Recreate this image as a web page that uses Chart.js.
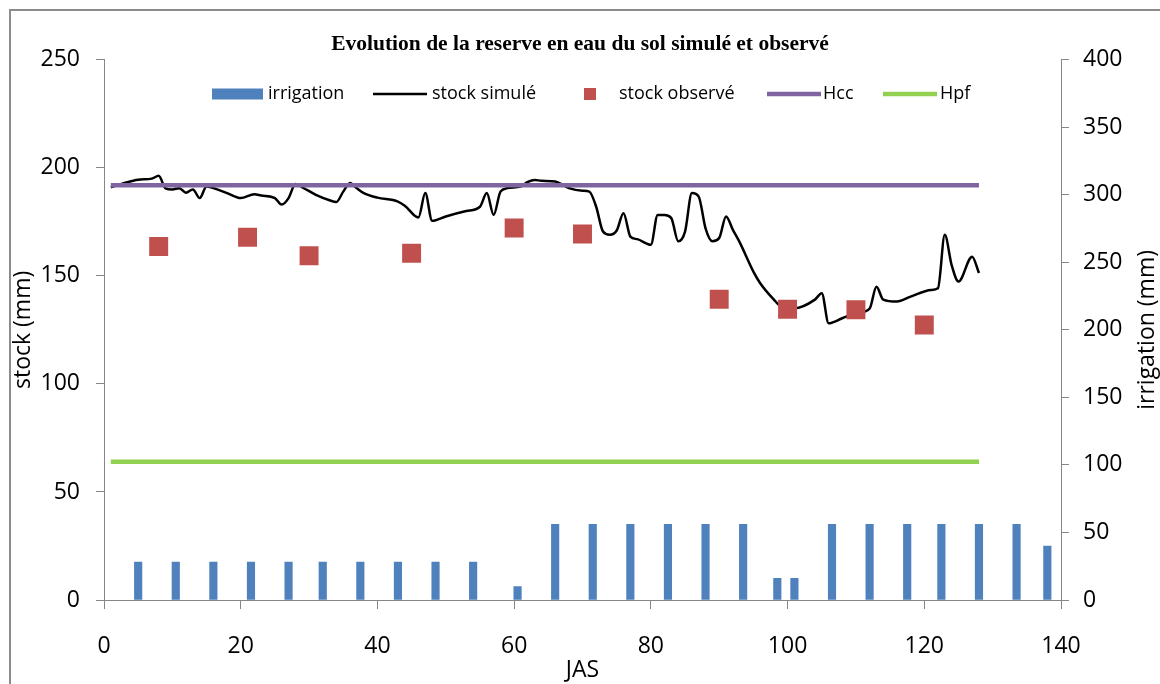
<!DOCTYPE html>
<html>
<head>
<meta charset="utf-8">
<script src="https://cdn.jsdelivr.net/npm/chart.js@4.4.0/dist/chart.umd.min.js"></script>
<style>
  html, body { margin: 0; padding: 0; background: #fff; }
  #wrap { width: 1160px; height: 684px; }
</style>
</head>
<body>
<div id="wrap"><canvas id="chart" width="1160" height="684"></canvas></div>
<script>
// irrigation doses (mm), right axis
const irrigDays = [5, 10.5, 16, 21.5, 27, 32, 37.5, 43, 48.5, 54, 60.5, 66, 71.5, 77, 82.5, 88, 93.5, 98.5, 101, 106.5, 112, 117.5, 122.5, 128, 133.5, 138];
const irrigMm   = [28, 28, 28, 28, 28, 28, 28, 28, 28, 28, 10, 56, 56, 56, 56, 56, 56, 16, 16, 56, 56, 56, 56, 56, 56, 40];

// simulated stock (mm)
const simDays  = [1, 3, 5, 7, 8, 9, 10, 11, 12, 13, 14, 15, 16, 18, 20, 22, 23, 25, 26, 27, 28, 29, 31, 33, 34, 35, 36, 37, 38, 40, 43, 44, 46, 47, 48, 50, 53, 55, 56, 57, 58, 59, 61, 62, 63, 64, 66, 68, 70, 71, 72, 73, 74, 75, 76, 77, 78, 80, 81, 82, 83, 84, 85, 86, 87, 88, 89, 90, 91, 92, 93, 95, 96, 98, 99, 101, 104, 105, 106, 108, 110, 112, 113, 114, 116, 118, 121, 122, 123, 124, 125, 127, 128];
const simStock = [191, 193, 194.5, 195, 196.3, 190.5, 190, 190.6, 188.5, 190, 186, 191.4, 190.6, 188.3, 186, 187.8, 187.2, 186, 183, 186, 192.5, 191, 187.5, 185, 184.2, 189, 193, 190.5, 188.3, 186.2, 184.4, 182.5, 177, 188.3, 175.5, 177.5, 180, 182, 188.3, 178.2, 189, 190.6, 191.5, 193.5, 194.4, 194, 193.7, 190.6, 189.4, 189, 182, 170.5, 169, 171, 179, 168.2, 167, 164.4, 178.2, 178.2, 176.7, 166, 170.5, 188.3, 186.7, 172, 166, 167.5, 177.5, 171.3, 165.5, 152, 146.6, 139, 136, 135, 139, 142, 128.1, 130.4, 132.7, 134.8, 145, 139, 138.1, 140.4, 143.5, 144.3, 169, 155, 147.4, 158.9, 151.3];

// observed stock (mm)
const obsDays  = [8, 21, 30, 45, 60, 70, 90, 100, 110, 120];
const obsStock = [163.6, 167.9, 159.3, 160.5, 172.2, 169.4, 139.2, 134.6, 134.3, 127.3];

// field capacity / wilting point
const limitDays = [1, 128];
const hccStock  = [192, 192];
const hpfStock  = [64, 64];

const axisGray = "#868686";
const tickFont = { family: "'Open Sans', sans-serif", size: 23 };

function toPoints(xs, ys) {
  return xs.map((x, i) => ({ x: x, y: ys[i] }));
}

// grey frame around the picture
const framePlugin = {
  id: "frame",
  beforeDraw(chart) {
    const ctx = chart.ctx;
    ctx.save();
    ctx.strokeStyle = "#8c8c8c";
    ctx.lineWidth = 2;
    ctx.beginPath();
    ctx.moveTo(10, 700);
    ctx.lineTo(10, 10);
    ctx.lineTo(1170, 10);
    ctx.stroke();
    ctx.restore();
  },
};

// right axis title, rotated bottom-to-top like the left one
const rightTitlePlugin = {
  id: "rightTitle",
  afterDraw(chart, args, opts) {
    const ctx = chart.ctx;
    const area = chart.chartArea;
    ctx.save();
    ctx.translate(opts.x, (area.top + area.bottom) / 2);
    ctx.rotate(-Math.PI / 2);
    ctx.font = opts.font;
    ctx.fillStyle = "#000";
    ctx.textAlign = "center";
    ctx.textBaseline = "middle";
    ctx.fillText(opts.text, 0, 0);
    ctx.restore();
  },
};

// Excel-like legend sitting inside the plot area
const legendPlugin = {
  id: "insideLegend",
  afterDraw(chart, args, opts) {
    const ctx = chart.ctx;
    ctx.save();
    ctx.font = opts.font;
    ctx.textBaseline = "middle";
    chart.data.datasets.forEach((ds, i) => {
      const sx = opts.symbolX[i];
      const y = opts.y;
      if (ds.type === "bar") {
        ctx.fillStyle = ds.backgroundColor;
        ctx.fillRect(sx, y - 5.5, 51, 11);
      } else if (ds.showLine === false) {
        ctx.fillStyle = ds.pointBackgroundColor;
        ctx.fillRect(sx + 10, y - 6, 12, 12);
      } else {
        ctx.strokeStyle = ds.borderColor;
        ctx.lineWidth = ds.borderWidth;
        ctx.beginPath();
        ctx.moveTo(sx, y);
        ctx.lineTo(sx + 54, y);
        ctx.stroke();
      }
      ctx.fillStyle = "#000";
      ctx.fillText(ds.label, opts.textX[i], y);
    });
    ctx.restore();
  },
};

new Chart(document.getElementById("chart"), {
  type: "line",
  data: {
    datasets: [
      {
        type: "bar",
        label: "irrigation",
        data: toPoints(irrigDays, irrigMm),
        yAxisID: "y2",
        backgroundColor: "#4f81bd",
        barThickness: 7.5,
        order: 5,
      },
      {
        type: "line",
        label: "stock simulé",
        data: toPoints(simDays, simStock),
        yAxisID: "y",
        borderColor: "#000",
        borderWidth: 2.5,
        pointRadius: 0,
        cubicInterpolationMode: "monotone",
        order: 4,
      },
      {
        type: "line",
        label: "stock observé",
        data: toPoints(obsDays, obsStock),
        yAxisID: "y",
        showLine: false,
        pointStyle: "rect",
        pointRadius: 13.4,
        pointBackgroundColor: "#c0504d",
        pointBorderWidth: 0,
        order: 2,
      },
      {
        type: "line",
        label: "Hcc",
        data: toPoints(limitDays, hccStock),
        yAxisID: "y",
        borderColor: "#8064a2",
        borderWidth: 4.5,
        pointRadius: 0,
        order: 1,
      },
      {
        type: "line",
        label: "Hpf",
        data: toPoints(limitDays, hpfStock),
        yAxisID: "y",
        borderColor: "#92d050",
        borderWidth: 4.5,
        pointRadius: 0,
        order: 1,
      },
    ],
  },
  options: {
    responsive: false,
    animation: false,
    layout: { padding: 0 },
    plugins: {
      legend: { display: false },
      tooltip: { enabled: false },
      title: {
        display: true,
        text: "Evolution de la reserve en eau du sol simulé et observé",
        color: "#000",
        font: { family: "'Liberation Serif', serif", size: 21.5, weight: "bold" },
        padding: { top: 32, bottom: 2 },
      },
      insideLegend: {
        font: "18px 'Open Sans', sans-serif",
        symbolX: [212, 373, 574, 767, 883],
        textX: [268, 432, 619, 823, 940],
        y: 94,
      },
      rightTitle: {
        text: "irrigation (mm)",
        font: "23px 'Open Sans', sans-serif",
        x: 1147,
      },
    },
    scales: {
      x: {
        type: "linear",
        min: 0,
        max: 140,
        offset: false,
        ticks: { stepSize: 20, color: "#000", font: tickFont, padding: 24 },
        grid: { offset: false, drawOnChartArea: false, tickLength: 9, color: axisGray },
        border: { color: axisGray },
        title: { display: true, text: "JAS", color: "#000", font: tickFont, padding: { top: 0, bottom: 0 } },
        afterFit(scale) { scale.height = 84; },
      },
      y: {
        position: "left",
        min: 0,
        max: 250,
        ticks: { stepSize: 50, color: "#000", font: tickFont, padding: 16 },
        grid: { drawOnChartArea: false, tickLength: 8, color: axisGray },
        border: { color: axisGray },
        title: { display: true, text: "stock (mm)", color: "#000", font: tickFont, padding: { top: 10, bottom: 0 } },
        afterFit(scale) { scale.width = 104; },
      },
      y2: {
        position: "right",
        min: 0,
        max: 400,
        ticks: { stepSize: 50, color: "#000", font: tickFont, padding: 14 },
        grid: { drawOnChartArea: false, tickLength: 8, color: axisGray },
        border: { color: axisGray },
        afterFit(scale) { scale.width = 99; },
      },
    },
  },
  plugins: [framePlugin, legendPlugin, rightTitlePlugin],
});
</script>
</body>
</html>
